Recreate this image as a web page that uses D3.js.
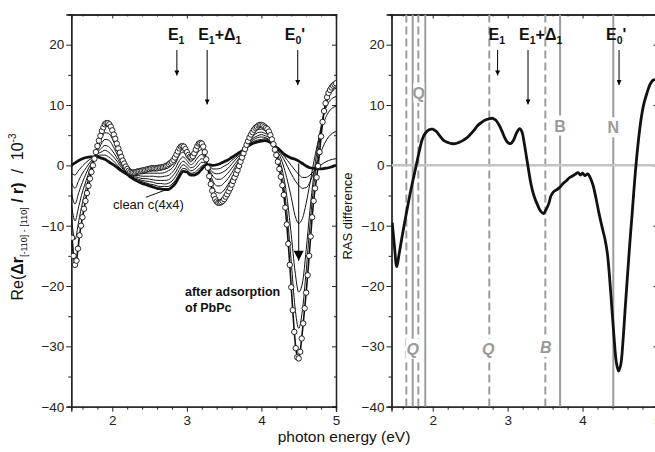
<!DOCTYPE html>
<html>
<head>
<meta charset="utf-8">
<script src="https://cdn.jsdelivr.net/npm/d3@7"></script>
<style>
  body { margin: 0; background: #fff; }
  svg { display: block; font-family: "Liberation Sans", Arial, Helvetica, sans-serif; }
</style>
</head>
<body>
<svg id="chart" width="655" height="452"></svg>
<script>
// ---------- data ----------
// Left panel: RAS spectra, sampled every 0.05 eV from 1.45 eV (clean surface + intermediate coverages)
const gridStart = 1.45, gridStep = 0.05;
const cleanV = [0.0,0.4,0.8,1.1,1.3,1.4,1.4,1.4,1.2,1.0,0.6,0.2,-0.2,-0.7,-1.1,-1.5,-2.0,-2.4,-2.7,-3.0,-3.2,-3.4,-3.6,-3.8,-3.9,-4.0,-4.0,-3.6,-2.9,-1.8,-1.0,-1.1,-1.6,-1.6,-1.3,-0.6,0.0,0.1,0.0,0.1,0.3,0.6,0.9,1.3,1.7,2.1,2.5,3.0,3.4,3.7,3.9,4.0,4.1,3.9,3.5,3.0,2.5,1.9,1.5,1.2,1.0,0.7,0.3,-0.1,-0.4,-0.5,-0.6,-0.6,-0.5,-0.4,-0.2,0.0];
const step1V = [-1.3,-1.6,-0.8,-0.1,0.5,1.0,1.3,1.6,1.7,1.7,1.4,0.9,0.3,-0.4,-0.9,-1.4,-1.9,-2.3,-2.5,-2.7,-2.9,-3.1,-3.2,-3.4,-3.5,-3.5,-3.5,-3.1,-2.4,-1.3,-0.5,-0.7,-1.3,-1.2,-0.7,-0.1,0.2,-0.1,-0.6,-0.6,-0.5,-0.1,0.2,0.8,1.3,1.8,2.4,3.0,3.6,4.0,4.2,4.3,4.4,4.1,3.5,2.8,2.3,1.6,0.8,0.0,-0.8,-1.5,-2.0,-2.0,-1.6,-1.0,-0.4,0.1,0.5,0.8,1.0,1.1];
const step2V = [-2.8,-3.8,-2.5,-1.3,-0.4,0.5,1.2,1.9,2.2,2.5,2.2,1.6,0.9,0.0,-0.7,-1.3,-1.8,-2.1,-2.3,-2.5,-2.6,-2.7,-2.8,-3.0,-3.0,-3.1,-3.0,-2.6,-1.8,-0.7,0.1,-0.3,-0.9,-0.7,-0.1,0.5,0.4,-0.4,-1.2,-1.4,-1.3,-1.0,-0.5,0.2,0.9,1.6,2.3,3.1,3.8,4.3,4.6,4.7,4.6,4.3,3.6,2.7,2.0,1.0,-0.2,-1.4,-2.5,-3.3,-3.8,-3.7,-2.8,-1.2,0.6,2.3,3.7,4.7,5.3,5.6];
const step3V = [-4.4,-6.4,-4.5,-2.8,-1.3,0.0,1.0,2.1,2.8,3.3,3.1,2.4,1.5,0.4,-0.5,-1.1,-1.7,-1.9,-2.0,-2.2,-2.2,-2.3,-2.4,-2.5,-2.5,-2.5,-2.4,-1.9,-1.1,0.0,0.7,0.2,-0.4,-0.2,0.6,1.1,0.6,-0.7,-1.8,-2.3,-2.3,-1.9,-1.3,-0.5,0.3,1.2,2.1,3.2,4.0,4.6,4.9,5.1,4.9,4.6,3.7,2.5,1.5,-0.3,-2.6,-5.3,-8.3,-9.6,-8.8,-6.3,-3.0,0.4,3.4,5.8,7.6,8.8,9.5,9.8];
const step4V = [-6.3,-9.2,-6.8,-4.4,-2.5,-0.7,0.9,2.4,3.5,4.3,4.2,3.4,2.2,0.9,-0.2,-1.0,-1.5,-1.7,-1.7,-1.8,-1.8,-1.8,-1.8,-1.9,-1.9,-1.8,-1.7,-1.2,-0.4,0.8,1.4,0.8,0.1,0.5,1.4,1.8,0.9,-1.0,-2.6,-3.4,-3.4,-2.9,-2.2,-1.3,-0.2,0.8,2.0,3.2,4.3,5.0,5.4,5.5,5.3,4.9,3.7,2.3,0.6,-2.0,-6.0,-11.5,-17.5,-21.0,-19.5,-14.0,-7.5,-1.8,2.8,6.5,9.0,10.4,11.1,11.4];
const step5V = [-8.3,-12.3,-9.2,-6.2,-3.7,-1.3,0.7,2.8,4.3,5.4,5.3,4.4,3.0,1.4,0.1,-0.8,-1.4,-1.5,-1.4,-1.4,-1.3,-1.3,-1.3,-1.3,-1.3,-1.2,-0.9,-0.5,0.4,1.7,2.2,1.4,0.6,1.1,2.2,2.6,1.2,-1.3,-3.5,-4.5,-4.6,-4.1,-3.2,-2.1,-0.9,0.4,1.8,3.3,4.5,5.3,5.9,6.0,5.7,5.2,3.8,2.0,-0.3,-3.5,-8.8,-16.0,-23.5,-27.0,-24.0,-17.5,-10.0,-3.5,1.2,5.8,9.3,11.3,12.3,12.8];

// Final spectrum after PbPc adsorption, sampled every 0.02 eV from 1.46 eV
const finalStart = 1.46, finalStep = 0.02;
const finalV = [-12.0,-15.0,-16.5,-15.8,-13.8,-11.6,-10.0,-8.6,-7.2,-5.9,-4.6,-3.4,-2.2,-1.1,0.0,1.1,2.2,3.2,4.1,4.9,5.7,6.3,6.8,7.0,7.0,6.8,6.4,5.8,5.1,4.4,3.6,2.8,2.1,1.4,0.8,0.3,-0.2,-0.6,-0.9,-1.1,-1.2,-1.2,-1.2,-1.1,-1.0,-1.0,-0.9,-0.9,-0.8,-0.8,-0.7,-0.6,-0.6,-0.5,-0.5,-0.5,-0.5,-0.5,-0.4,-0.4,-0.3,-0.3,-0.2,-0.1,0.0,0.2,0.4,0.6,0.9,1.3,1.8,2.3,2.8,3.1,3.2,3.1,2.7,2.2,1.7,1.4,1.3,1.5,2.0,2.6,3.2,3.6,3.7,3.6,3.1,2.2,1.0,-0.4,-1.8,-3.1,-4.2,-5.0,-5.6,-6.0,-6.2,-6.2,-6.1,-5.9,-5.6,-5.2,-4.8,-4.3,-3.8,-3.2,-2.6,-2.0,-1.4,-0.8,-0.1,0.6,1.3,2.0,2.7,3.4,4.0,4.6,5.1,5.5,5.9,6.2,6.4,6.6,6.7,6.7,6.6,6.4,6.2,6.0,5.6,5.0,4.3,3.5,2.6,1.7,0.6,-0.6,-1.9,-3.3,-4.9,-7.0,-9.8,-13.0,-16.5,-20.2,-24.0,-27.6,-30.3,-31.8,-32.0,-30.9,-28.7,-26.2,-23.7,-21.1,-18.2,-15.0,-11.8,-8.6,-5.9,-3.8,-2.0,-0.1,2.2,4.8,7.2,9.0,10.3,11.3,12.0,12.5,12.9,13.2,13.4,13.6];

// Right panel: RAS difference spectrum
const rasE = [1.46,1.49,1.52,1.55,1.60,1.65,1.70,1.75,1.78,1.82,1.86,1.90,1.95,2.00,2.05,2.10,2.15,2.20,2.25,2.30,2.35,2.40,2.45,2.50,2.55,2.60,2.65,2.70,2.75,2.80,2.84,2.88,2.92,2.96,3.00,3.04,3.08,3.12,3.16,3.19,3.22,3.25,3.28,3.31,3.35,3.40,3.44,3.48,3.51,3.55,3.58,3.62,3.66,3.70,3.74,3.78,3.82,3.86,3.90,3.94,3.97,4.00,4.03,4.07,4.10,4.14,4.18,4.22,4.26,4.30,4.33,4.36,4.39,4.42,4.45,4.48,4.51,4.54,4.57,4.60,4.63,4.66,4.70,4.74,4.78,4.82,4.86,4.90,4.94,4.97,5.00];
const rasV = [-9.5,-13.5,-16.8,-14.8,-11.2,-7.8,-4.6,-1.7,0.0,2.3,4.3,5.3,5.9,6.0,5.6,4.8,4.1,3.8,3.6,3.6,3.8,4.1,4.5,5.1,5.8,6.6,7.1,7.5,7.7,7.8,7.5,6.8,5.8,4.6,3.8,3.6,4.2,5.4,6.1,5.6,3.8,1.5,-0.8,-3.0,-5.0,-6.6,-7.6,-8.0,-7.4,-6.3,-5.0,-4.3,-4.0,-3.6,-3.0,-2.6,-2.1,-1.8,-1.5,-1.2,-1.6,-1.3,-1.7,-1.4,-2.0,-3.3,-5.5,-8.0,-10.2,-12.3,-14.5,-18.5,-23.5,-28.5,-32.6,-34.1,-33.0,-29.0,-23.5,-18.2,-13.0,-8.3,-1.8,3.5,7.6,10.3,12.0,13.4,14.1,14.2,14.0];

// Transition energies (eV) marked in the right panel
const solidLineE = [1.733, 1.901, 3.70, 4.41];
const dashedLineE = [1.648, 1.808, 2.755, 3.503];
const topLabels = ["Q", "B", "N"];
const topLabelE = [1.815, 3.70, 4.41];
const topLabelY = [12, 6.6, 6.3];
const bottomLabels = ["Q", "Q", "B"];
const bottomLabelE = [1.733, 2.74, 3.51];
const bottomLabelY = [-30.4, -30.4, -30.1];

// Critical points of the bulk band structure: arrow energy and arrow tip value
const cpArrowE = [2.866, 3.272, 4.487];
const cpArrowEnd = [14.9, 10.1, 13.3];

// Axis ticks
const yMajor = [-40, -30, -20, -10, 0, 10, 20];
const yMinor = [-35, -25, -15, -5, 5, 15, 25];
const xMajor = [2, 3, 4, 5];
const xMinor = [1.6, 1.8, 2.2, 2.4, 2.6, 2.8, 3.2, 3.4, 3.6, 3.8, 4.2, 4.4, 4.6, 4.8];

// ---------- layout ----------
const svg = d3.select("#chart");
const plotTop = 14.5, plotBottom = 406.7;
const y = d3.scaleLinear().domain([-40, 25]).range([plotBottom, plotTop]);
const xL = d3.scaleLinear().domain([1.45, 5]).range([71.3, 336]);
const xR = d3.scaleLinear().domain([1.45, 5]).range([391.5, 657.5]);

const defs = svg.append("defs");
defs.append("clipPath").attr("id", "clipL").append("rect")
  .attr("x", xL.range()[0]).attr("y", plotTop).attr("width", xL.range()[1] - xL.range()[0]).attr("height", plotBottom - plotTop);
defs.append("clipPath").attr("id", "clipR").append("rect")
  .attr("x", xR.range()[0]).attr("y", plotTop).attr("width", xR.range()[1] - xR.range()[0]).attr("height", plotBottom - plotTop);
const marker = defs.append("marker").attr("id", "ah").attr("viewBox", "0 0 10 10")
  .attr("refX", 10).attr("refY", 5).attr("markerWidth", 7).attr("markerHeight", 5)
  .attr("markerUnits", "userSpaceOnUse").attr("orient", "auto");
marker.append("path").attr("d", "M0,0 L10,5 L0,10 z").attr("fill", "#000");
const bigHead = defs.append("marker").attr("id", "bigah").attr("viewBox", "0 0 10 10")
  .attr("refX", 10).attr("refY", 5).attr("markerWidth", 12).attr("markerHeight", 10)
  .attr("markerUnits", "userSpaceOnUse").attr("orient", "auto");
bigHead.append("path").attr("d", "M0,0 L10,5 L0,10 z").attr("fill", "#000");

function drawFrame(x) {
  const [x0, x1] = x.range();
  const g = svg.append("g");
  // left axis (outward ticks)
  const ax = g.append("g").attr("transform", `translate(${x0},0)`)
    .call(d3.axisLeft(y).tickValues(yMajor).tickSize(5).tickPadding(2).tickFormat(d3.format("d")));
  ax.append("g").call(d3.axisLeft(y).tickValues(yMinor).tickSize(3).tickFormat(""));
  // bottom axis (outward ticks)
  const bx = g.append("g").attr("transform", `translate(0,${plotBottom})`)
    .call(d3.axisBottom(x).tickValues(xMajor).tickSize(5).tickPadding(4).tickFormat(d3.format("d")));
  bx.append("g").call(d3.axisBottom(x).tickValues(xMinor).tickSize(3).tickFormat(""));
  // top and right mirror axes (inward ticks)
  const tx = g.append("g").attr("transform", `translate(0,${plotTop})`);
  tx.call(d3.axisBottom(x).tickValues(xMajor).tickSize(4).tickFormat(""));
  tx.append("g").call(d3.axisBottom(x).tickValues(xMinor).tickSize(2).tickFormat(""));
  const rx = g.append("g").attr("transform", `translate(${x1},0)`);
  rx.call(d3.axisLeft(y).tickValues(yMajor).tickSize(4).tickFormat(""));
  rx.append("g").call(d3.axisLeft(y).tickValues(yMinor).tickSize(2).tickFormat(""));
  g.selectAll(".domain").attr("stroke", "#222").attr("stroke-width", 1.3);
  g.selectAll(".tick line").attr("stroke", "#222").attr("stroke-width", 1);
  g.selectAll(".tick text").attr("font-size", 13.5).attr("fill", "#222")
    .attr("font-family", "'Liberation Sans', Arial, sans-serif");
  return g;
}

// E1, E1+Δ1, E0' labels with arrows
function cpMarks(x) {
  const g = svg.append("g").attr("font-weight", "bold").attr("fill", "#111");
  const base = 40;
  const t1 = g.append("text").attr("x", x(cpArrowE[0]) - 9).attr("y", base).attr("font-size", 16);
  t1.append("tspan").text("E");
  t1.append("tspan").attr("dy", 4).attr("font-size", 10.5).text("1");
  const t2 = g.append("text").attr("x", x(cpArrowE[1]) - 9).attr("y", base).attr("font-size", 16);
  t2.append("tspan").text("E");
  t2.append("tspan").attr("dy", 4).attr("font-size", 10.5).text("1");
  t2.append("tspan").attr("dy", -4).text("+Δ");
  t2.append("tspan").attr("dy", 4).attr("font-size", 10.5).text("1");
  const t3 = g.append("text").attr("x", x(cpArrowE[2]) - 13).attr("y", base).attr("font-size", 16);
  t3.append("tspan").text("E");
  t3.append("tspan").attr("dy", 4).attr("font-size", 10.5).text("0");
  t3.append("tspan").attr("dy", -4).text("'");
  cpArrowE.forEach((e, i) => {
    svg.append("line").attr("x1", x(e)).attr("x2", x(e)).attr("y1", 50).attr("y2", y(cpArrowEnd[i]))
      .attr("stroke", "#000").attr("stroke-width", 1).attr("marker-end", "url(#ah)");
  });
}

// ---------- left panel ----------
drawFrame(xL);
const gridE = cleanV.map((_, i) => +(gridStart + i * gridStep).toFixed(2));
const finalE = finalV.map((_, i) => +(finalStart + i * finalStep).toFixed(2));

const plotL = svg.append("g").attr("clip-path", "url(#clipL)");
const lineL = d3.line().x(d => xL(d[0])).y(d => y(d[1])).curve(d3.curveMonotoneX);
[step1V, step2V, step3V, step4V, step5V].forEach(vals => {
  plotL.append("path").datum(gridE.map((e, i) => [e, vals[i]]))
    .attr("d", lineL).attr("fill", "none").attr("stroke", "#111").attr("stroke-width", 1);
});
plotL.append("path").datum(gridE.map((e, i) => [e, cleanV[i]]))
  .attr("d", lineL).attr("fill", "none").attr("stroke", "#111").attr("stroke-width", 2.8);
const finalPts = finalE.map((e, i) => [e, finalV[i]]);
plotL.append("path").datum(finalPts)
  .attr("d", d3.line().x(d => xL(d[0])).y(d => y(d[1])))
  .attr("fill", "none").attr("stroke", "#111").attr("stroke-width", 1.6);
plotL.append("g").selectAll("circle").data(finalPts).join("circle")
  .attr("cx", d => xL(d[0])).attr("cy", d => y(d[1])).attr("r", 2.7)
  .attr("fill", "#fff").attr("stroke", "#111").attr("stroke-width", 0.9);

// coverage arrow at E0'
svg.append("line").attr("x1", xL(4.5)).attr("x2", xL(4.5)).attr("y1", y(0.3)).attr("y2", y(-15.8))
  .attr("stroke", "#000").attr("stroke-width", 1).attr("marker-end", "url(#bigah)");

// annotations
svg.append("text").attr("x", 113).attr("y", 208.5).attr("font-size", 13).attr("fill", "#111").text("clean c(4x4)");
svg.append("line").attr("x1", xL(2.45)).attr("y1", y(-5.3)).attr("x2", xL(2.73)).attr("y2", y(-4.0))
  .attr("stroke", "#111").attr("stroke-width", 1);
const ads = svg.append("text").attr("font-size", 12.5).attr("font-weight", "bold").attr("fill", "#111");
ads.append("tspan").attr("x", 185).attr("y", 296).text("after adsorption");
ads.append("tspan").attr("x", 185).attr("y", 312).text("of PbPc");

cpMarks(xL);

// y label (left)
const yl = svg.append("text").attr("transform", "translate(23,217) rotate(-90)")
  .attr("text-anchor", "middle").attr("font-size", 16).attr("fill", "#111");
yl.append("tspan").text("Re(");
yl.append("tspan").attr("font-weight", "bold").text("Δr");
yl.append("tspan").attr("font-size", 9).attr("dy", 4).text("[-110] - [110]");
yl.append("tspan").attr("dy", -4).attr("font-weight", "bold").text("\u00A0/ r)");
yl.append("tspan").text("\u00A0\u00A0/\u00A0\u00A010");
yl.append("tspan").attr("font-size", 10).attr("dy", -7).text("-3");

// ---------- right panel ----------
drawFrame(xR);
const plotR = svg.append("g").attr("clip-path", "url(#clipR)");
plotR.selectAll("line.sol").data(solidLineE).join("line").attr("class", "sol")
  .attr("x1", d => xR(d)).attr("x2", d => xR(d)).attr("y1", plotTop).attr("y2", plotBottom)
  .attr("stroke", "#9c9c9c").attr("stroke-width", 2);
plotR.selectAll("line.dsh").data(dashedLineE).join("line").attr("class", "dsh")
  .attr("x1", d => xR(d)).attr("x2", d => xR(d)).attr("y1", plotTop).attr("y2", plotBottom)
  .attr("stroke", "#9c9c9c").attr("stroke-width", 2).attr("stroke-dasharray", "8,4");
plotR.append("line").attr("x1", xR.range()[0]).attr("x2", xR.range()[1]).attr("y1", y(0)).attr("y2", y(0))
  .attr("stroke", "#c4c4c4").attr("stroke-width", 2.5);

function greyLabel(txt, e, v, italic, w) {
  const g = plotR.append("g");
  g.append("rect").attr("x", xR(e) - w / 2).attr("y", y(v) - 10).attr("width", w).attr("height", 20).attr("fill", "#fff");
  g.append("text").attr("x", xR(e)).attr("y", y(v) + 6).attr("text-anchor", "middle")
    .attr("font-size", 16).attr("font-weight", "bold").attr("font-style", italic ? "italic" : "normal")
    .attr("fill", "#9a9a9a").text(txt);
}
topLabels.forEach((t, i) => greyLabel(t, topLabelE[i], topLabelY[i], false, i === 0 ? 11 : 12));
bottomLabels.forEach((t, i) => greyLabel(t, bottomLabelE[i], bottomLabelY[i], true, 14));

plotR.append("path").datum(rasE.map((e, i) => [e, rasV[i]]))
  .attr("d", d3.line().x(d => xR(d[0])).y(d => y(d[1])).curve(d3.curveCatmullRom))
  .attr("fill", "none").attr("stroke", "#111").attr("stroke-width", 2.8).attr("stroke-linejoin", "round");

cpMarks(xR);

svg.append("text").attr("transform", "translate(352,216) rotate(-90)")
  .attr("text-anchor", "middle").attr("font-size", 13).attr("fill", "#111").text("RAS difference");

// x label
svg.append("text").attr("x", 344).attr("y", 442).attr("text-anchor", "middle")
  .attr("font-size", 15.5).attr("fill", "#111").text("photon energy (eV)");
</script>
</body>
</html>
